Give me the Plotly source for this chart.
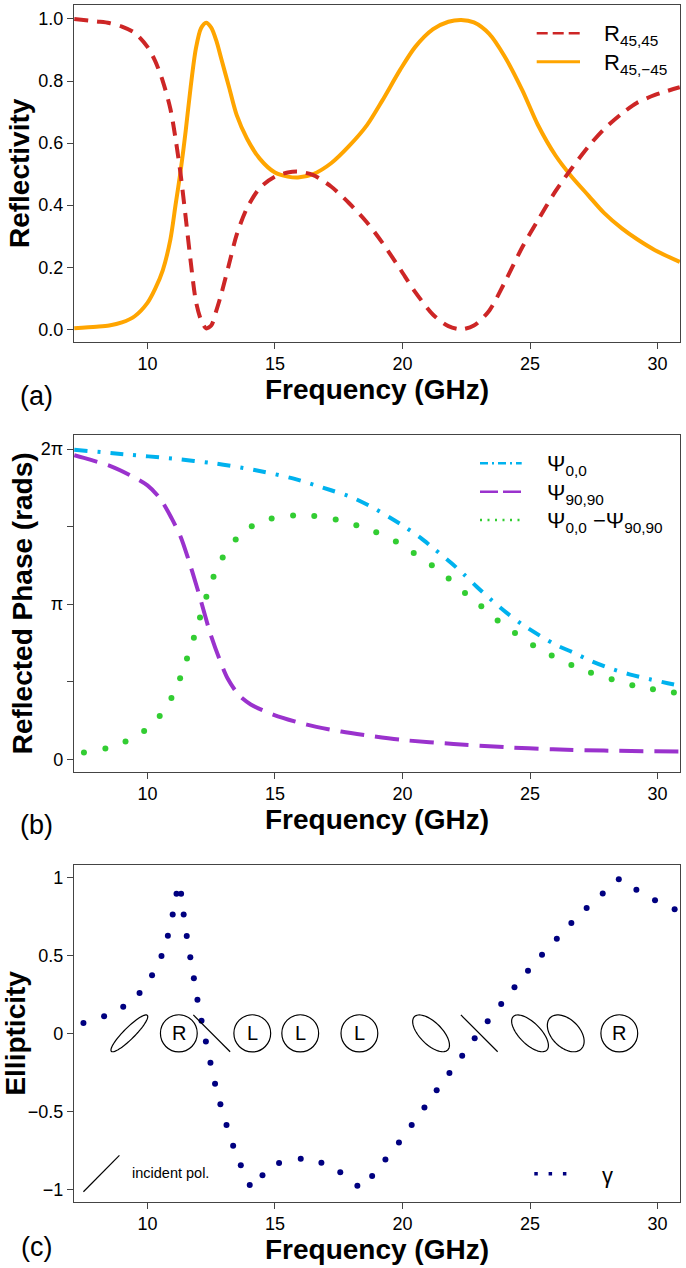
import numpy as np
import plotly.graph_objects as go

# ---------------- (a) reflectivity ----------------
freq_a = [7.13, 8.0, 8.5, 9.0, 9.5, 10.0, 10.3, 10.6, 10.9, 11.1, 11.3, 11.5, 11.7, 11.9,
          12.1, 12.3, 12.5, 12.7, 12.9, 13.2, 13.5, 13.9, 14.4, 15.0, 15.5, 15.9, 16.5,
          17.2, 17.9, 18.6, 19.2, 19.9, 20.5, 21.2, 21.8, 22.3, 22.8, 23.4, 24.0, 24.7,
          25.3, 26.0, 26.6, 27.3, 27.9, 28.6, 29.2, 29.9, 30.87]
r_45_45 = [1.0, 0.992, 0.987, 0.975, 0.955, 0.91, 0.865, 0.80, 0.71, 0.615, 0.50, 0.36, 0.215,
           0.09, 0.03, 0.003, 0.012, 0.06, 0.115, 0.21, 0.305, 0.39, 0.455, 0.492, 0.505,
           0.508, 0.497, 0.46, 0.407, 0.345, 0.28, 0.195, 0.12, 0.047, 0.01, 0.0, 0.012,
           0.06, 0.15, 0.265, 0.35, 0.445, 0.515, 0.59, 0.645, 0.695, 0.73, 0.755, 0.78]
r_45_m45 = [0.003, 0.008, 0.012, 0.022, 0.042, 0.085, 0.13, 0.19, 0.29, 0.40, 0.51, 0.64, 0.785,
            0.905, 0.97, 0.988, 0.972, 0.93, 0.87, 0.78, 0.69, 0.615, 0.55, 0.505, 0.492,
            0.489, 0.50, 0.535, 0.59, 0.657, 0.736, 0.835, 0.91, 0.967, 0.991, 0.997, 0.989,
            0.952, 0.88, 0.77, 0.66, 0.56, 0.495, 0.43, 0.375, 0.325, 0.29, 0.255, 0.217]

# ---------------- (b) reflected phase ----------------
freq_psi00 = [7.13, 9.1, 11.0, 12.7, 14.2, 15.7, 17.2, 18.0, 18.8, 19.5, 20.0, 20.7, 21.2,
              21.9, 22.4, 22.9, 23.5, 24.1, 24.7, 25.4, 26.0, 26.7, 27.4, 28.1, 28.9, 29.7,
              30.4, 30.87]
psi_00 = [6.27, 6.18, 6.09, 5.99, 5.86, 5.69, 5.45, 5.31, 5.11, 4.90, 4.74, 4.49, 4.28, 3.98,
          3.75, 3.50, 3.22, 2.96, 2.73, 2.50, 2.32, 2.16, 1.99, 1.85, 1.72, 1.62, 1.54, 1.49]

freq_psi9090 = [7.13, 7.75, 8.55, 9.3, 10.0, 10.5, 10.95, 11.3, 11.6, 11.95, 12.2, 12.45, 12.8,
                13.15, 13.6, 14.05, 14.95, 16.25, 17.6, 18.9, 20.0, 22.0, 24.0, 25.9, 27.9,
                30.87]
psi_9090 = [6.16, 6.07, 5.94, 5.76, 5.55, 5.28, 4.88, 4.51, 4.06, 3.47, 3.02, 2.57, 2.06, 1.63,
            1.29, 1.11, 0.90, 0.70, 0.56, 0.46, 0.39, 0.31, 0.245, 0.20, 0.175, 0.155]

freq_dpsi = [7.51, 8.35, 9.14, 9.87, 10.48, 10.94, 11.28, 11.55, 11.82, 12.06, 12.31, 12.59,
             12.95, 13.46, 14.09, 14.87, 15.71, 16.54, 17.38, 18.19, 18.97, 19.74, 20.44,
             21.15, 21.81, 22.45, 23.09, 23.73, 24.41, 25.12, 25.85, 26.62, 27.39, 28.2,
             29.01, 29.82, 30.64]
dpsi = [0.135, 0.216, 0.358, 0.574, 0.877, 1.24, 1.64, 2.04, 2.46, 2.87, 3.29, 3.70, 4.09, 4.45,
        4.72, 4.88, 4.94, 4.93, 4.86, 4.74, 4.60, 4.41, 4.18, 3.93, 3.66, 3.37, 3.10, 2.81,
        2.56, 2.31, 2.10, 1.91, 1.75, 1.62, 1.50, 1.42, 1.35]

# ---------------- (c) ellipticity ----------------
freq_gamma = [7.49, 8.30, 9.05, 9.69, 10.18, 10.55, 10.80, 10.99, 11.14, 11.32, 11.42, 11.54,
              11.68, 11.82, 11.96, 12.12, 12.29, 12.47, 12.65, 12.86, 13.10, 13.36, 13.66,
              14.01, 14.51, 15.16, 16.01, 16.82, 17.56, 18.23, 18.81, 19.33, 19.86, 20.36,
              20.86, 21.34, 21.84, 22.34, 22.83, 23.34, 23.87, 24.39, 24.92, 25.47, 26.05,
              26.62, 27.22, 27.85, 28.48, 29.17, 29.90, 30.67]
gamma = [0.066, 0.109, 0.171, 0.259, 0.372, 0.496, 0.626, 0.761, 0.895, 0.895, 0.761, 0.624,
         0.487, 0.353, 0.216, 0.081, -0.053, -0.188, -0.323, -0.455, -0.588, -0.72, -0.846,
         -0.972, -0.91, -0.831, -0.803, -0.829, -0.891, -0.976, -0.915, -0.808, -0.699,
         -0.588, -0.476, -0.365, -0.254, -0.143, -0.032, 0.077, 0.188, 0.295, 0.402, 0.504,
         0.607, 0.707, 0.803, 0.897, 0.987, 0.921, 0.853, 0.795]

# polarisation state sketches drawn along gamma = 0
pol_freq = [9.29, 11.23, 12.52, 14.11, 15.99, 18.31, 21.12, 23.01, 25.0, 26.4, 28.5]
pol_kind = ["ell+", "R", "lin-", "L", "L", "L", "ell-", "lin-", "ell-", "ell-", "R"]
pol_ratio = [0.22, 1, 0, 1, 1, 1, 0.47, 0, 0.45, 0.63, 1]

W, H = 686, 1268
FONT = "Liberation Sans, Arial, Helvetica, sans-serif"
PLOT_X = (74, 680)
PANELS = [(5, 341.7), (435, 771.7), (865, 1201.7)]


def px(x):
    return x / W


def py(y):
    return 1 - y / H


def ellipse_path(a, b, ang):
    t = np.linspace(0, 2 * np.pi, 73)
    x = a * np.cos(t) * np.cos(ang) - b * np.sin(t) * np.sin(ang)
    y = a * np.cos(t) * np.sin(ang) + b * np.sin(t) * np.cos(ang)
    return "M" + " L".join(f"{u:.2f},{v:.2f}" for u, v in zip(x, y)) + " Z"


fig = go.Figure()

fig.add_trace(go.Scatter(x=freq_a, y=r_45_m45, mode="lines", name="R45,-45",
                         line=dict(color="#FFA500", width=4, shape="spline", smoothing=0.8),
                         xaxis="x", yaxis="y"))
fig.add_trace(go.Scatter(x=freq_a, y=r_45_45, mode="lines", name="R45,45",
                         line=dict(color="#CD2626", width=4, dash="14px,9px", shape="spline",
                                   smoothing=0.8),
                         xaxis="x", yaxis="y"))

fig.add_trace(go.Scatter(x=freq_psi00, y=psi_00, mode="lines", name="Psi0,0",
                         line=dict(color="#00B2EE", width=4, dash="13px,10px,3px,10px",
                                   shape="spline", smoothing=0.8),
                         xaxis="x2", yaxis="y2"))
fig.add_trace(go.Scatter(x=freq_psi9090, y=psi_9090, mode="lines", name="Psi90,90",
                         line=dict(color="#9A32CD", width=4, dash="24px,11px", shape="spline",
                                   smoothing=0.8),
                         xaxis="x2", yaxis="y2"))
fig.add_trace(go.Scatter(x=freq_dpsi, y=dpsi, mode="markers", name="Psi0,0-Psi90,90",
                         marker=dict(color="#32CD32", size=6),
                         xaxis="x2", yaxis="y2"))

fig.add_trace(go.Scatter(x=freq_gamma, y=gamma, mode="markers", name="gamma",
                         marker=dict(color="#000080", size=6),
                         xaxis="x3", yaxis="y3"))

axis_common = dict(showline=True, mirror=True, linecolor="#444", linewidth=1.3,
                   ticks="outside", ticklen=6, tickcolor="#444", tickwidth=1.2,
                   showgrid=False, zeroline=False,
                   tickfont=dict(size=18, family=FONT, color="black"))
title_font = dict(size=28, family=FONT, color="black", weight="bold")

layout = dict(width=W, height=H, margin=dict(l=0, r=0, t=0, b=0),
              paper_bgcolor="white", plot_bgcolor="white", showlegend=False)

y_ranges = [[-0.04, 1.045], [-0.253, 6.57], [-1.079, 1.079]]
y_titles = ["Reflectivity", "Reflected Phase (rads)", "Ellipticity"]
y_ticks = [
    ([0, 0.2, 0.4, 0.6, 0.8, 1.0], ["0.0", "0.2", "0.4", "0.6", "0.8", "1.0"]),
    ([0, np.pi, 2 * np.pi], ["0", "π", "2π"]),
    ([-1, -0.5, 0, 0.5, 1], ["−1", "−0.5", "0", "0.5", "1"]),
]

for i, (top, bot) in enumerate(PANELS):
    sfx = "" if i == 0 else str(i + 1)
    layout["xaxis" + sfx] = dict(axis_common, domain=[px(PLOT_X[0]), px(PLOT_X[1])],
                                 anchor="y" + sfx, range=[7.12, 30.88],
                                 tickvals=[10, 15, 20, 25, 30],
                                 title=dict(text="Frequency (GHz)", font=title_font, standoff=0))
    layout["yaxis" + sfx] = dict(axis_common, domain=[py(bot), py(top)], anchor="x" + sfx,
                                 range=y_ranges[i], tickvals=y_ticks[i][0],
                                 ticktext=y_ticks[i][1],
                                 title=dict(text=y_titles[i], font=title_font, standoff=0))

# unlabeled ticks at pi/2 and 3pi/2
layout["yaxis2"]["minor"] = dict(tickvals=[np.pi / 2, 3 * np.pi / 2], ticks="outside",
                                 ticklen=6, tickcolor="#444", tickwidth=1.2, showgrid=False)

fig.update_layout(**layout)

shapes = []
annotations = []

# polarisation sketches
for f, kind, ratio in zip(pol_freq, pol_kind, pol_ratio):
    base = dict(xref="x3", yref="y3", xsizemode="pixel", ysizemode="pixel",
                xanchor=f, yanchor=0, line=dict(color="black", width=1.2))
    if kind in ("R", "L"):
        shapes.append(dict(base, type="circle", x0=-18.4, x1=18.4, y0=-18.6, y1=18.6))
        annotations.append(dict(x=f, y=0, xref="x3", yref="y3", text=kind, showarrow=False,
                                font=dict(size=20, family=FONT, color="black")))
    elif kind.startswith("lin"):
        shapes.append(dict(base, type="line", x0=-18.4, y0=18.4, x1=18.4, y1=-18.4))
    else:
        a = np.sqrt(2 * 18.4 ** 2 / (1 + ratio ** 2))
        ang = np.pi / 4 if kind == "ell+" else -np.pi / 4
        shapes.append(dict(base, type="path", path=ellipse_path(a, a * ratio, ang)))

# incident polarisation key
shapes.append(dict(type="line", xref="x3", yref="y3", x0=7.49, y0=-1.015, x1=8.9, y1=-0.782,
                   line=dict(color="black", width=1.2)))
annotations.append(dict(x=9.32, y=-0.897, xref="x3", yref="y3", text="incident pol.",
                        xanchor="left", yanchor="middle", showarrow=False,
                        font=dict(size=14.5, family=FONT, color="black")))

# legends (drawn by hand to match the original key layout)
legend_rows = [
    (33.3, "#CD2626", "11px,5px", 2.5, "R<sub>45,45</sub>", 536.7, 580, 601.7),
    (61.7, "#FFA500", "solid", 3, "R<sub>45,−45</sub>", 536.7, 580, 601.7),
    (463.3, "#00B2EE", "8px,4px,2px,4px", 2.5, "Ψ<sub>0,0</sub>", 480, 521.7, 545),
    (491.7, "#9A32CD", "18px,5px", 2.5, "Ψ<sub>90,90</sub>", 480, 521.7, 545),
    (520, "#32CD32", "2px,5.5px", 2.5, "Ψ<sub>0,0</sub> −Ψ<sub>90,90</sub>", 480, 521.7, 545),
    (1173.7, "#000080", "3.5px,10.8px", 3.5, "γ", 534.3, 567, 600),
]
for yy, col, dash, wid, label, xs, xe, xt in legend_rows:
    shapes.append(dict(type="line", xref="paper", yref="paper", x0=px(xs), x1=px(xe),
                       y0=py(yy), y1=py(yy), line=dict(color=col, width=wid, dash=dash)))
    annotations.append(dict(x=px(xt), y=py(yy + 2), xref="paper", yref="paper", text=label,
                            xanchor="left", yanchor="middle", showarrow=False,
                            font=dict(size=22, family=FONT, color="black")))

for lab, yy in zip(["(a)", "(b)", "(c)"], [396, 825, 1247]):
    annotations.append(dict(x=px(36), y=py(yy), xref="paper", yref="paper", text=lab,
                            xanchor="center", yanchor="middle", showarrow=False,
                            font=dict(size=27, family=FONT, color="black")))

fig.update_layout(shapes=shapes, annotations=annotations)

# the page's default 8px body margin would shift the figure off the window
fig.write_html("out.html", config={"displayModeBar": False},
               post_script="document.body.style.margin='0px';")
